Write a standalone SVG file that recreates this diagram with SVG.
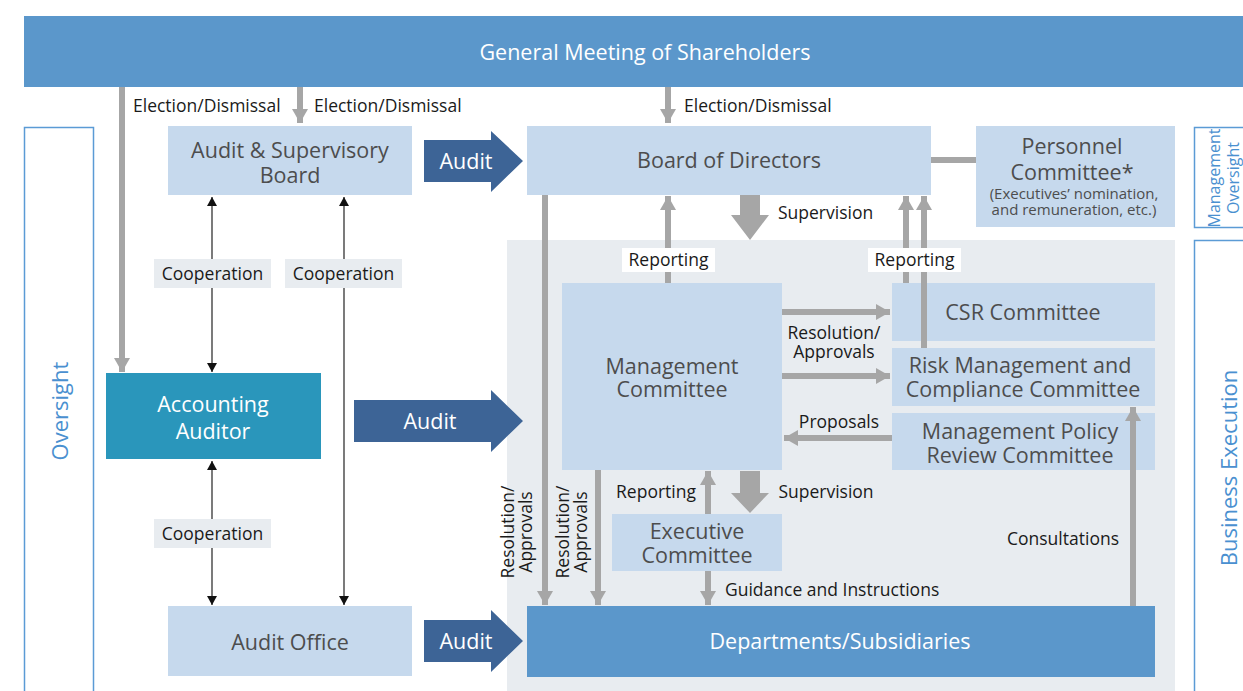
<svg xmlns="http://www.w3.org/2000/svg" width="1243" height="691" viewBox="0 0 1243 691">
<defs>
<style>
.node{fill:#c6d9ed}
.dark{fill:#5b97cb}
.nt{font-family:"Open Sans","Noto Sans",sans-serif;font-size:21.5px;fill:#4d4d4d;text-anchor:middle}
.sm{font-family:"Open Sans","Noto Sans",sans-serif;font-size:15px;fill:#4d4d4d;text-anchor:middle}
.wt{font-family:"Open Sans","Noto Sans",sans-serif;font-size:21.5px;fill:#ffffff;text-anchor:middle}
.lb{font-family:"Open Sans","Noto Sans",sans-serif;font-size:17.5px;fill:#1a1a1a}
.side{fill:none;stroke:#5b9bd5;stroke-width:1.5}
.st{font-family:"Open Sans","Noto Sans",sans-serif;font-size:22px;fill:#4a90d0;text-anchor:middle}
.st2{font-family:"Open Sans","Noto Sans",sans-serif;font-size:16px;fill:#4a90d0;text-anchor:middle}
.g{stroke:#a6a6a6;stroke-width:6;fill:none}
.gh{fill:#a6a6a6}
.thin{stroke:#333;stroke-width:1.3;fill:none}
.audit{fill:#3d6496}
.lbbox{fill:#e8ecf0}
.wbox{fill:#ffffff}
</style>
<marker id="ga" markerUnits="userSpaceOnUse" markerWidth="18" markerHeight="16" refX="14" refY="8" orient="auto">
<path d="M0,0 L14,8 L0,16 z" fill="#a6a6a6"/>
</marker>
<marker id="ta" markerUnits="userSpaceOnUse" markerWidth="10" markerHeight="10" refX="9" refY="5" orient="auto-start-reverse">
<path d="M0,0 L9,5 L0,10 z" fill="#111"/>
</marker>
</defs>

<rect x="0" y="0" width="1243" height="691" fill="#ffffff"/>

<g id="panel">
<rect x="507" y="240" width="668" height="451" fill="#e8ecf0"/>
</g>

<g id="gms">
<rect x="24" y="16" width="1219" height="71" class="dark"/>
<text x="645" y="60" class="wt">General Meeting of Shareholders</text>
</g>

<g id="oversight">
<rect x="24.5" y="127.5" width="69" height="570" class="side"/>
<text class="st" transform="translate(68,411) rotate(-90)">Oversight</text>
</g>

<g id="mgmt-oversight">
<rect x="1194.5" y="127.5" width="60" height="100" class="side"/>
<text class="st2" transform="translate(1220,178) rotate(-90)">Management</text>
<text class="st2" transform="translate(1239,178) rotate(-90)">Oversight</text>
</g>

<g id="business-execution">
<rect x="1194.5" y="240.5" width="60" height="460" class="side"/>
<text class="st" transform="translate(1237,468) rotate(-90)">Business Execution</text>
</g>

<g id="asb">
<rect x="168" y="126" width="244" height="69" class="node"/>
<text x="290" y="158" class="nt">Audit &amp; Supervisory</text>
<text x="290" y="183" class="nt">Board</text>
</g>

<g id="bod">
<rect x="527" y="126" width="404" height="69" class="node"/>
<text x="729" y="167.5" class="nt">Board of Directors</text>
</g>

<g id="personnel">
<rect x="976" y="126" width="199" height="101" class="node"/>
<text x="1072" y="153.5" class="nt">Personnel</text>
<text x="1072" y="179.5" class="nt">Committee*</text>
<text x="1074" y="199" class="sm">(Executives’ nomination,</text>
<text x="1074" y="215" class="sm">and remuneration, etc.)</text>
</g>

<g id="accounting-auditor">
<rect x="106" y="373" width="215" height="86" fill="#2a96bb"/>
<text x="213" y="411.5" class="wt">Accounting</text>
<text x="213" y="438.5" class="wt">Auditor</text>
</g>

<g id="audit-office">
<rect x="168" y="606" width="244" height="70" class="node"/>
<text x="290" y="649.5" class="nt">Audit Office</text>
</g>

<g id="management-committee">
<rect x="562" y="283" width="220" height="187" class="node"/>
<text x="672" y="373.5" class="nt">Management</text>
<text x="672" y="397" class="nt">Committee</text>
</g>

<g id="csr">
<rect x="892" y="283" width="263" height="58" class="node"/>
<text x="1023" y="319.5" class="nt">CSR Committee</text>
</g>

<g id="risk">
<rect x="892" y="348" width="263" height="58" class="node"/>
<text x="1020" y="372.5" class="nt">Risk Management and</text>
<text x="1023" y="396.5" class="nt">Compliance Committee</text>
</g>

<g id="mprc">
<rect x="892" y="413" width="263" height="57" class="node"/>
<text x="1020" y="438.5" class="nt">Management Policy</text>
<text x="1020" y="462.5" class="nt">Review Committee</text>
</g>

<g id="executive-committee">
<rect x="612" y="514" width="170" height="57" class="node"/>
<text x="697" y="538.5" class="nt">Executive</text>
<text x="697" y="562.5" class="nt">Committee</text>
</g>

<g id="departments">
<rect x="527" y="606" width="628" height="71" class="dark"/>
<text x="840" y="648.5" class="wt">Departments/Subsidiaries</text>
</g>

<g id="connectors">
<line x1="122" y1="87" x2="122" y2="372" class="g" marker-end="url(#ga)"/>
<line x1="300" y1="87" x2="300" y2="123" class="g" marker-end="url(#ga)"/>
<line x1="668" y1="87" x2="668" y2="123" class="g" marker-end="url(#ga)"/>
<line x1="931" y1="160" x2="976" y2="160" class="g"/>
<line x1="545" y1="195" x2="545" y2="605" class="g" marker-end="url(#ga)"/>
<line x1="598" y1="470" x2="598" y2="605" class="g" marker-end="url(#ga)"/>
<line x1="668" y1="283" x2="668" y2="196" class="g" marker-end="url(#ga)"/>
<line x1="906" y1="283" x2="906" y2="196" class="g" marker-end="url(#ga)"/>
<line x1="924" y1="348" x2="924" y2="196" class="g" marker-end="url(#ga)"/>
<polygon class="gh" points="740,195 760,195 760,215 769,215 750,240 731,215 740,215"/>
<polygon class="gh" points="740,471 760,471 760,493 769,493 750,513 731,493 740,493"/>
<line x1="782" y1="312" x2="890" y2="312" class="g" marker-end="url(#ga)"/>
<line x1="782" y1="376" x2="890" y2="376" class="g" marker-end="url(#ga)"/>
<line x1="892" y1="438" x2="784" y2="438" class="g" marker-end="url(#ga)"/>
<line x1="708" y1="514" x2="708" y2="471" class="g" marker-end="url(#ga)"/>
<line x1="708" y1="571" x2="708" y2="605" class="g" marker-end="url(#ga)"/>
<line x1="1133" y1="606" x2="1133" y2="407" class="g" marker-end="url(#ga)"/>
<line x1="212" y1="197" x2="212" y2="372" class="thin" marker-start="url(#ta)" marker-end="url(#ta)"/>
<line x1="344" y1="197" x2="344" y2="605" class="thin" marker-start="url(#ta)" marker-end="url(#ta)"/>
<line x1="212" y1="461" x2="212" y2="605" class="thin" marker-start="url(#ta)" marker-end="url(#ta)"/>
<polygon class="audit" points="424,140 491,140 491,131 523,161 491,192 491,182 424,182"/>
<polygon class="audit" points="354,400 491,400 491,390 523,421 491,452 491,442 354,442"/>
<polygon class="audit" points="424,620 491,620 491,610 523,641 491,672 491,662 424,662"/>
<text x="466" y="168.5" class="wt">Audit</text>
<text x="430" y="428.5" class="wt">Audit</text>
<text x="466" y="648.5" class="wt">Audit</text>
<text x="133" y="112" class="lb">Election/Dismissal</text>
<text x="314" y="112" class="lb">Election/Dismissal</text>
<text x="684" y="112" class="lb">Election/Dismissal</text>
<rect x="154" y="259" width="117" height="29" class="lbbox"/>
<text x="212.5" y="280" class="lb" text-anchor="middle">Cooperation</text>
<rect x="285" y="259" width="117" height="29" class="lbbox"/>
<text x="343.5" y="280" class="lb" text-anchor="middle">Cooperation</text>
<rect x="154" y="519" width="117" height="29" class="lbbox"/>
<text x="212.5" y="540" class="lb" text-anchor="middle">Cooperation</text>
<text x="778" y="219" class="lb">Supervision</text>
<rect x="622" y="248" width="93" height="24" class="wbox"/>
<text x="668.5" y="266" class="lb" text-anchor="middle">Reporting</text>
<rect x="868" y="248" width="93" height="24" class="wbox"/>
<text x="914.5" y="266" class="lb" text-anchor="middle">Reporting</text>
<text x="834" y="339" class="lb" text-anchor="middle">Resolution/</text>
<text x="834" y="358" class="lb" text-anchor="middle">Approvals</text>
<text x="839" y="428" class="lb" text-anchor="middle">Proposals</text>
<text x="656" y="498" class="lb" text-anchor="middle">Reporting</text>
<text x="826" y="498" class="lb" text-anchor="middle">Supervision</text>
<text x="725" y="596" class="lb">Guidance and Instructions</text>
<text x="1119" y="545" class="lb" text-anchor="end">Consultations</text>
<text class="lb" text-anchor="middle" transform="translate(514,532) rotate(-90)">Resolution/</text>
<text class="lb" text-anchor="middle" transform="translate(532,532) rotate(-90)">Approvals</text>
<text class="lb" text-anchor="middle" transform="translate(569,532) rotate(-90)">Resolution/</text>
<text class="lb" text-anchor="middle" transform="translate(587,532) rotate(-90)">Approvals</text>
</g>
</svg>
